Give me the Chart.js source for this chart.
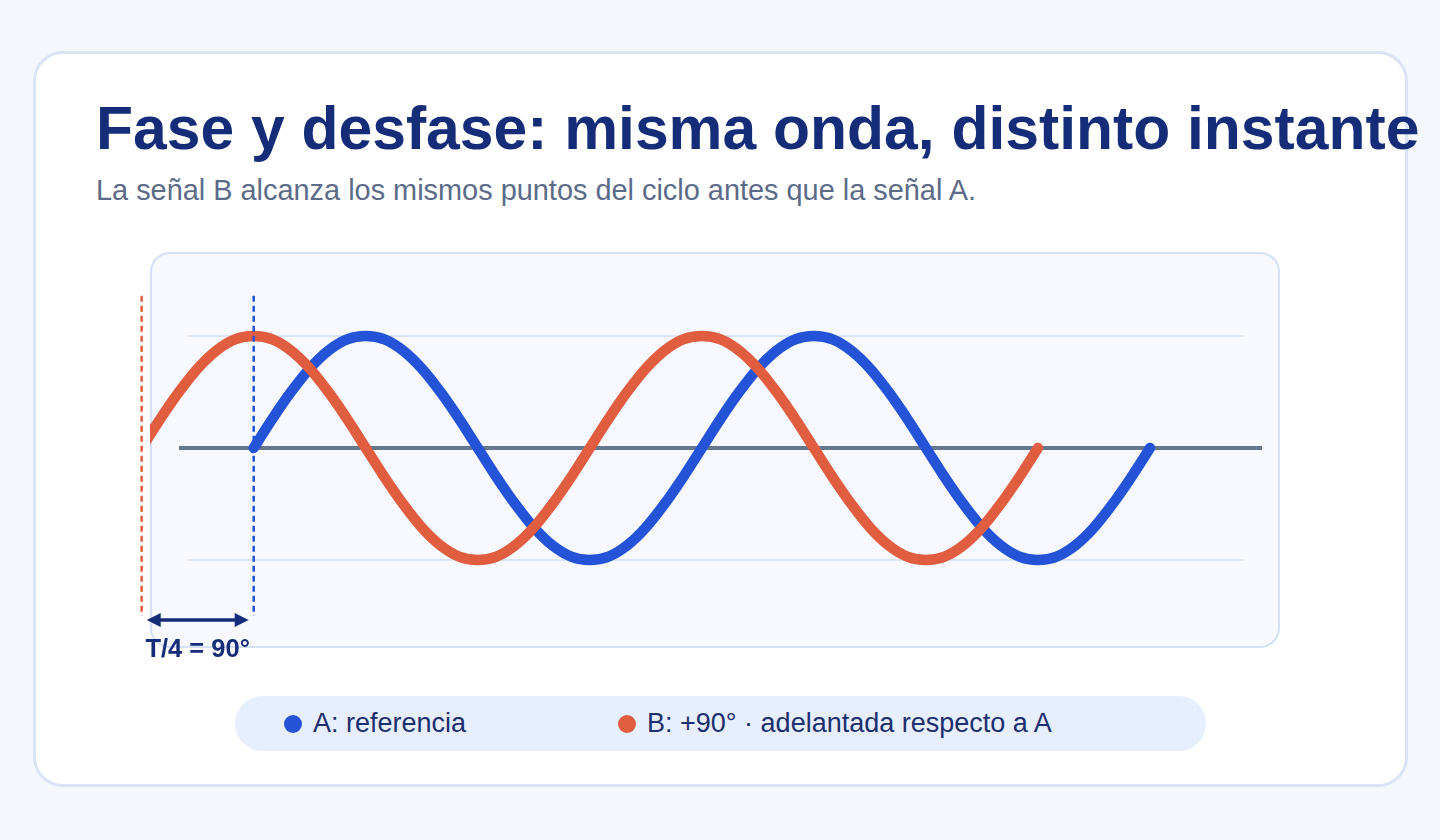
<!DOCTYPE html>
<html lang="es">
<head>
<meta charset="utf-8">
<title>Fase y desfase</title>
<script src="https://cdn.jsdelivr.net/npm/chart.js@4"></script>
<style>
  html, body { margin: 0; padding: 0; }
  body {
    width: 1440px; height: 840px; position: relative; overflow: hidden;
    background: #f4f7fc;
    font-family: "Liberation Sans", Arial, Helvetica, sans-serif;
  }
  .card {
    position: absolute; left: 33px; top: 51px; width: 1369px; height: 730px;
    background: #fff; border: 3px solid #dae4f5; border-radius: 30px;
  }
  h1 {
    position: absolute; left: 96px; top: 98px; margin: 0;
    font-size: 60.6px; line-height: 60px; font-weight: 700; color: #152d78;
    white-space: nowrap;
  }
  .sub {
    position: absolute; left: 96px; top: 176px; margin: 0;
    font-size: 28.9px; line-height: 28px; color: #5b6b88; white-space: nowrap;
  }
  .plot {
    position: absolute; left: 150px; top: 252px; width: 1126px; height: 392px;
    background: #f7f9ff; border: 2px solid #d4e0f5; border-radius: 20px;
  }
  .legend {
    position: absolute; left: 235px; top: 696px; width: 971px; height: 55px;
    background: #e7eefd; border-radius: 28px;
    display: flex; align-items: center; padding-left: 49px; box-sizing: border-box;
  }
  .item { display: flex; align-items: center; font-size: 27px; color: #1c2f6e; }
  .item:first-child { width: 334px; }
  .dot { width: 18px; height: 18px; border-radius: 50%; margin-right: 11px; }
  canvas { position: absolute; left: 0; top: 0; pointer-events: none; }
</style>
</head>
<body>
<div class="card"></div>
<h1>Fase y desfase: misma onda, distinto instante</h1>
<p class="sub">La señal B alcanza los mismos puntos del ciclo antes que la señal A.</p>
<div class="plot"></div>
<div class="legend" id="legend"></div>
<canvas id="chart" width="1440" height="840"></canvas>
<script>
// Phase in degrees, every 15°
const phaseA = [0, 15, 30, 45, 60, 75, 90, 105, 120, 135, 150, 165, 180,
  195, 210, 225, 240, 255, 270, 285, 300, 315, 330, 345, 360,
  375, 390, 405, 420, 435, 450, 465, 480, 495, 510, 525, 540,
  555, 570, 585, 600, 615, 630, 645, 660, 675, 690, 705, 720];
const signalA = [0, 0.26, 0.5, 0.71, 0.87, 0.97, 1, 0.97, 0.87, 0.71, 0.5, 0.26, 0,
  -0.26, -0.5, -0.71, -0.87, -0.97, -1, -0.97, -0.87, -0.71, -0.5, -0.26, 0,
  0.26, 0.5, 0.71, 0.87, 0.97, 1, 0.97, 0.87, 0.71, 0.5, 0.26, 0,
  -0.26, -0.5, -0.71, -0.87, -0.97, -1, -0.97, -0.87, -0.71, -0.5, -0.26, 0];

// B is 90° ahead, so it starts a quarter period earlier
const phaseB = [-90, -75, -60, -45, -30, -15, 0, 15, 30, 45, 60, 75, 90,
  105, 120, 135, 150, 165, 180, 195, 210, 225, 240, 255, 270,
  285, 300, 315, 330, 345, 360, 375, 390, 405, 420, 435, 450,
  465, 480, 495, 510, 525, 540, 555, 570, 585, 600, 615, 630];
const signalB = [0, 0.26, 0.5, 0.71, 0.87, 0.97, 1, 0.97, 0.87, 0.71, 0.5, 0.26, 0,
  -0.26, -0.5, -0.71, -0.87, -0.97, -1, -0.97, -0.87, -0.71, -0.5, -0.26, 0,
  0.26, 0.5, 0.71, 0.87, 0.97, 1, 0.97, 0.87, 0.71, 0.5, 0.26, 0,
  -0.26, -0.5, -0.71, -0.87, -0.97, -1, -0.97, -0.87, -0.71, -0.5, -0.26, 0];

const seriesLabels = ['A: referencia', 'B: +90° · adelantada respecto a A'];
const seriesColors = ['#2453d8', '#e05d3f'];

// Guides: reference lines and the start markers of each wave
const gridLevels = [1, -1];
const gridSpan = [-53, 795];
const axisSpan = [-60, 810];
const markerPhases = [-90, 0];
const markerSpan = [1.36, -1.5];
const shiftLabel = 'T/4 = 90°';

const toPoints = (xs, ys) => xs.map((x, i) => ({ x, y: ys[i] }));
const segment = (x0, x1, y0, y1) => [{ x: x0, y: y0 }, { x: x1, y: y1 }];

const guide = (data, color, width, order, extra) => Object.assign({
  data,
  borderColor: color,
  borderWidth: width,
  pointRadius: 0,
  tension: 0,
  order,
}, extra || {});

const wave = (label, data, color, order) => ({
  label,
  data,
  borderColor: color,
  borderWidth: 10.5,
  borderCapStyle: 'round',
  borderJoinStyle: 'round',
  cubicInterpolationMode: 'monotone',
  pointRadius: 0,
  order,
});

const datasets = [
  guide(segment(markerPhases[0], markerPhases[0], markerSpan[0], markerSpan[1]),
    seriesColors[1], 2.5, 0, { borderDash: [6, 4], clip: false }),
  guide(segment(markerPhases[1], markerPhases[1], markerSpan[0], markerSpan[1]),
    seriesColors[0], 2.5, 0, { borderDash: [6, 4], clip: false }),
  wave(seriesLabels[1], toPoints(phaseB, signalB), seriesColors[1], 1),
  wave(seriesLabels[0], toPoints(phaseA, signalA), seriesColors[0], 2),
  guide(segment(axisSpan[0], axisSpan[1], 0, 0), '#66788f', 4, 3, { clip: false }),
  guide(segment(gridSpan[0], gridSpan[1], gridLevels[0], gridLevels[0]), '#dbe4f4', 2, 4),
  guide(segment(gridSpan[0], gridSpan[1], gridLevels[1], gridLevels[1]), '#dbe4f4', 2, 4),
];

// Double arrow between the two start markers, with its label
const shiftArrow = {
  id: 'shiftArrow',
  afterDatasetsDraw(chart) {
    const { ctx, scales: { x, y } } = chart;
    const x0 = x.getPixelForValue(markerPhases[0]) + 5;
    const x1 = x.getPixelForValue(markerPhases[1]) - 5;
    const yy = y.getPixelForValue(-1.536);
    const head = 14;
    ctx.save();
    ctx.strokeStyle = '#152d78';
    ctx.fillStyle = '#152d78';
    ctx.lineWidth = 3.5;
    ctx.beginPath();
    ctx.moveTo(x0 + head - 2, yy);
    ctx.lineTo(x1 - head + 2, yy);
    ctx.stroke();
    [[x0, 1], [x1, -1]].forEach(([tip, dir]) => {
      ctx.beginPath();
      ctx.moveTo(tip, yy);
      ctx.lineTo(tip + dir * head, yy - 7);
      ctx.lineTo(tip + dir * head, yy + 7);
      ctx.closePath();
      ctx.fill();
    });
    ctx.font = 'bold 25.5px "Liberation Sans", Arial, sans-serif';
    ctx.textAlign = 'center';
    ctx.textBaseline = 'alphabetic';
    ctx.fillText(shiftLabel, (x0 + x1) / 2, yy + 37);
    ctx.restore();
  },
};

const ctx = document.getElementById('chart').getContext('2d');
new Chart(ctx, {
  type: 'line',
  data: { datasets },
  options: {
    responsive: false,
    animation: false,
    events: [],
    layout: { padding: { left: 150, right: 160, top: 252, bottom: 192 } },
    scales: {
      x: { type: 'linear', min: -83.3, max: 824.4, display: false },
      y: { type: 'linear', min: -1.786, max: 1.75, display: false },
    },
    plugins: { legend: { display: false }, tooltip: { enabled: false } },
  },
  plugins: [shiftArrow],
});

// Legend pill built from the series names and colours
const legend = document.getElementById('legend');
seriesLabels.forEach((label, i) => {
  const item = document.createElement('div');
  item.className = 'item';
  item.innerHTML = `<span class="dot" style="background:${seriesColors[i]}"></span>${label}`;
  legend.appendChild(item);
});
</script>
</body>
</html>
